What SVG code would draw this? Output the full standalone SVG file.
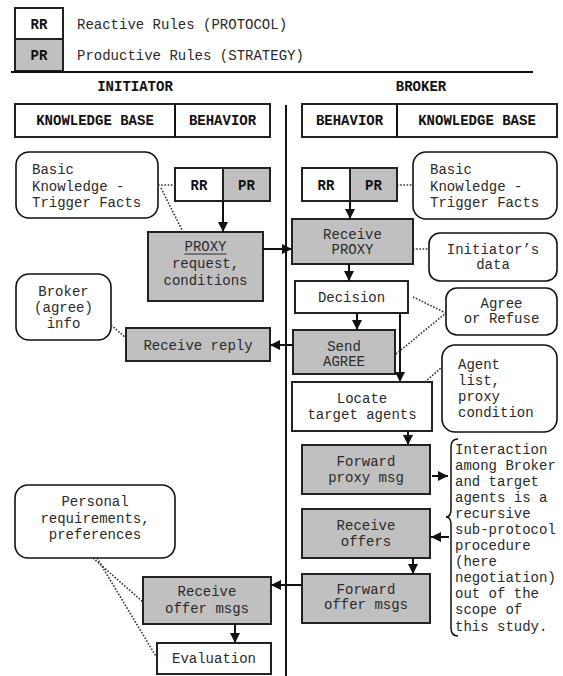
<svg xmlns="http://www.w3.org/2000/svg" width="563" height="676" viewBox="0 0 563 676">
<defs>
<style>
text{font-family:"Liberation Mono","DejaVu Sans Mono",monospace;font-size:14px;fill:#2a2a2a}
.b{font-weight:bold;fill:#111}
.c{text-anchor:middle}
.box{fill:#fff;stroke:#222;stroke-width:2}
.g{fill:#c0c0c0;stroke:#222;stroke-width:2}
.rb{fill:#fff;stroke:#111;stroke-width:1.6}
.ln{stroke:#111;stroke-width:2;fill:none}
.dot{stroke:#333;stroke-width:1.6;stroke-dasharray:1.6 1.6;fill:none}
.ar{stroke:#111;stroke-width:2;fill:none;marker-end:url(#ah)}
</style>
<marker id="ah" viewBox="0 0 10 10" refX="10" refY="5" markerWidth="10" markerHeight="10" markerUnits="userSpaceOnUse" orient="auto"><path d="M0,0 L10,5 L0,10 z" fill="#111"/></marker>
</defs>
<rect width="563" height="676" fill="#fff"/>

<g id="legend">
<rect class="box" x="15" y="8" width="48" height="31"/>
<rect class="g" x="15" y="39" width="48" height="32"/>
<text class="b c" x="39" y="29">RR</text>
<text class="b c" x="39" y="60">PR</text>
<text x="77" y="29">Reactive Rules (PROTOCOL)</text>
<text x="77" y="60">Productive Rules (STRATEGY)</text>
<line class="ln" x1="11" y1="72" x2="533" y2="72"/>
</g>

<g id="lanes">
<text class="b c" x="135" y="91">INITIATOR</text>
<text class="b c" x="421" y="91">BROKER</text>
<rect class="box" x="15" y="104" width="255" height="33"/>
<line class="ln" x1="175" y1="104" x2="175" y2="137"/>
<text class="b c" x="95" y="125">KNOWLEDGE BASE</text>
<text class="b c" x="222.5" y="125">BEHAVIOR</text>
<rect class="box" x="302" y="104" width="255" height="33"/>
<line class="ln" x1="397" y1="104" x2="397" y2="137"/>
<text class="b c" x="349.5" y="125">BEHAVIOR</text>
<text class="b c" x="477" y="125">KNOWLEDGE BASE</text>
<line class="ln" x1="286" y1="105" x2="286" y2="676"/>
</g>

<g id="kb-init-basic">
<rect class="rb" x="16" y="152" width="142" height="66" rx="13"/>
<text x="32" y="174">Basic</text>
<text x="32" y="190.5">Knowledge -</text>
<text x="32" y="207">Trigger Facts</text>
</g>

<g id="init-rules">
<rect class="box" x="175" y="168" width="48" height="33"/>
<rect class="g" x="223" y="168" width="47" height="33"/>
<text class="b c" x="199" y="190">RR</text>
<text class="b c" x="246.5" y="190">PR</text>
</g>

<g id="proxy-request">
<rect class="g" x="148" y="232" width="115" height="69"/>
<text class="c" x="205.5" y="251">PROXY</text>
<line x1="184.5" y1="254" x2="226.5" y2="254" stroke="#2a2a2a" stroke-width="1"/>
<text class="c" x="205.5" y="268">request,</text>
<text class="c" x="205.5" y="284.5">conditions</text>
</g>

<g id="broker-info">
<rect class="rb" x="16" y="274" width="95" height="66" rx="13"/>
<text class="c" x="63.5" y="296">Broker</text>
<text class="c" x="63.5" y="312">(agree)</text>
<text class="c" x="63.5" y="328">info</text>
</g>

<g id="receive-reply">
<rect class="g" x="126" y="328" width="144" height="33"/>
<text class="c" x="198" y="349.5">Receive reply</text>
</g>

<g id="broker-rules">
<rect class="box" x="302" y="168" width="48" height="33"/>
<rect class="g" x="350" y="168" width="47" height="33"/>
<text class="b c" x="326" y="190">RR</text>
<text class="b c" x="373.5" y="190">PR</text>
</g>

<g id="kb-broker-basic">
<rect class="rb" x="413" y="152" width="144" height="67" rx="13"/>
<text x="430" y="174">Basic</text>
<text x="430" y="190.5">Knowledge -</text>
<text x="430" y="207">Trigger Facts</text>
</g>

<g id="receive-proxy">
<rect class="g" x="292" y="219" width="121" height="45"/>
<text class="c" x="352.5" y="239">Receive</text>
<text class="c" x="352.5" y="254">PROXY</text>
</g>

<g id="initiator-data">
<rect class="rb" x="429" y="233" width="128" height="48" rx="11"/>
<text class="c" x="493" y="254">Initiator’s</text>
<text class="c" x="493" y="269">data</text>
</g>

<g id="decision">
<rect class="box" x="295" y="281" width="113" height="32"/>
<text class="c" x="351.5" y="302">Decision</text>
</g>

<g id="agree-refuse">
<rect class="rb" x="446" y="288" width="111" height="47" rx="11"/>
<text class="c" x="501.5" y="308">Agree</text>
<text class="c" x="501.5" y="323">or Refuse</text>
</g>

<g id="send-agree">
<rect class="g" x="293" y="330" width="102" height="44"/>
<text class="c" x="344" y="351">Send</text>
<text class="c" x="344" y="366">AGREE</text>
</g>

<g id="agent-list">
<rect class="rb" x="442" y="345" width="115" height="87" rx="13"/>
<text x="458" y="369">Agent</text>
<text x="458" y="385">list,</text>
<text x="458" y="401">proxy</text>
<text x="458" y="417">condition</text>
</g>

<g id="locate">
<rect class="box" x="292" y="382" width="140" height="49"/>
<text class="c" x="362" y="403">Locate</text>
<text class="c" x="362" y="419">target agents</text>
</g>

<g id="forward-proxy">
<rect class="g" x="302" y="445" width="128" height="49"/>
<text class="c" x="366" y="466">Forward</text>
<text class="c" x="366" y="482">proxy msg</text>
</g>

<g id="receive-offers">
<rect class="g" x="302" y="509" width="128" height="49"/>
<text class="c" x="366" y="530">Receive</text>
<text class="c" x="366" y="546">offers</text>
</g>

<g id="forward-offers">
<rect class="g" x="302" y="574" width="128" height="49"/>
<text class="c" x="366" y="594">Forward</text>
<text class="c" x="366" y="609">offer msgs</text>
</g>

<g id="note">
<path class="ln" style="stroke-width:1.5" d="M458,439 Q451,439 451,447 L451,509 Q451,517 446,517 Q451,517 451,525 L451,628 Q451,636 458,636"/>
<text x="455" y="454">Interaction</text>
<text x="455" y="470">among Broker</text>
<text x="455" y="486">and target</text>
<text x="455" y="502">agents is a</text>
<text x="455" y="518">recursive</text>
<text x="455" y="534">sub-protocol</text>
<text x="455" y="550">procedure</text>
<text x="455" y="566">(here</text>
<text x="455" y="582">negotiation)</text>
<text x="455" y="598">out of the</text>
<text x="455" y="614">scope of</text>
<text x="455" y="631">this study.</text>
</g>

<g id="personal">
<rect class="rb" x="15" y="485" width="160" height="73" rx="13"/>
<text class="c" x="95" y="506">Personal</text>
<text class="c" x="95" y="523">requirements,</text>
<text class="c" x="95" y="539">preferences</text>
</g>

<g id="receive-offer-msgs">
<rect class="g" x="143" y="577" width="128" height="47"/>
<text class="c" x="207" y="596">Receive</text>
<text class="c" x="207" y="613">offer msgs</text>
</g>

<g id="evaluation">
<rect class="box" x="157" y="643" width="114" height="31"/>
<text class="c" x="214" y="663">Evaluation</text>
</g>

<g id="connectors">
<line class="ar" x1="223" y1="201" x2="223" y2="232"/>
<line class="ar" x1="350" y1="201" x2="350" y2="219"/>
<line class="ar" x1="263" y1="249" x2="292" y2="249"/>
<line class="ar" x1="349" y1="264" x2="349" y2="281"/>
<line class="ar" x1="357" y1="313" x2="357" y2="330"/>
<line class="ar" x1="400" y1="313" x2="400" y2="382"/>
<line class="ar" x1="293" y1="345" x2="270" y2="345"/>
<line class="ar" x1="408" y1="431" x2="408" y2="445"/>
<line class="ar" x1="432" y1="476" x2="448" y2="476"/>
<line class="ar" x1="449" y1="537" x2="431" y2="537"/>
<line class="ar" x1="413" y1="558" x2="413" y2="574"/>
<line class="ar" x1="302" y1="585" x2="271" y2="585"/>
<line class="ar" x1="235" y1="624" x2="235" y2="643"/>
<line class="dot" x1="158" y1="185" x2="175" y2="185"/>
<line class="dot" x1="161" y1="188" x2="183" y2="232"/>
<line class="dot" x1="397" y1="185" x2="413" y2="185"/>
<line class="dot" x1="413" y1="249" x2="429" y2="249"/>
<line class="dot" x1="413" y1="297" x2="446" y2="313"/>
<line class="dot" x1="396" y1="354" x2="446" y2="313"/>
<line class="dot" x1="425" y1="382" x2="442" y2="367"/>
<line class="dot" x1="111" y1="325" x2="126" y2="338"/>
<line class="dot" x1="93" y1="558" x2="143" y2="602"/>
<line class="dot" x1="97" y1="558" x2="157" y2="658"/>
</g>
</svg>
